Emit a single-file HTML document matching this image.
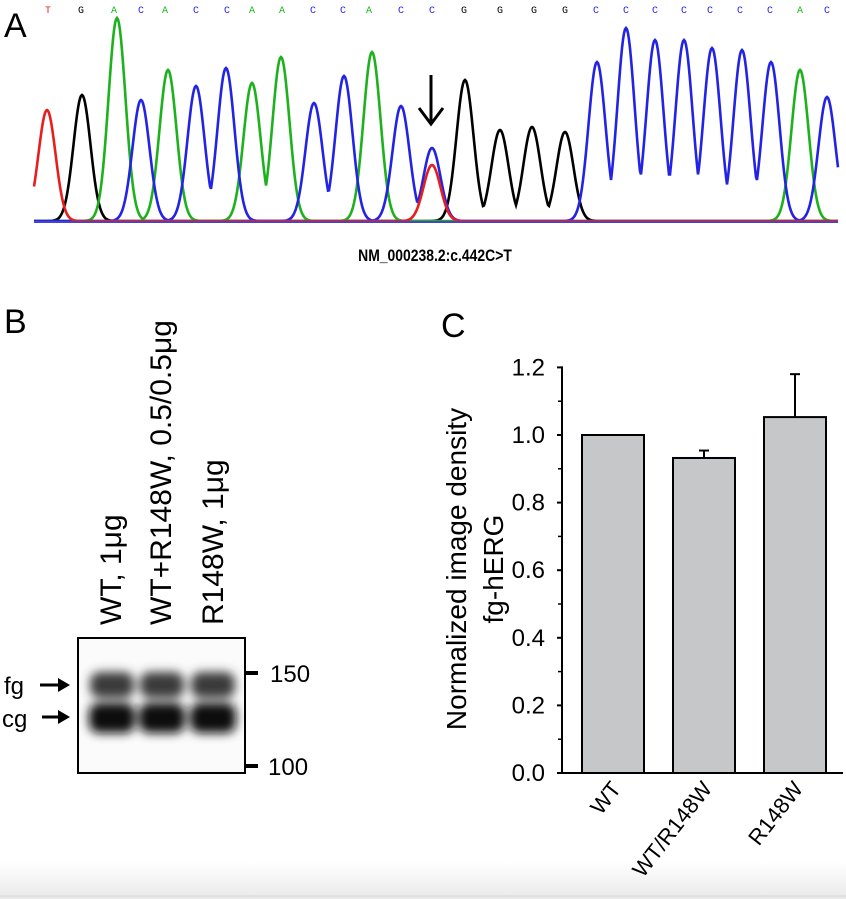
<!DOCTYPE html>
<html><head><meta charset="utf-8"><style>
html,body{margin:0;padding:0;background:#fff;}
body{width:846px;height:899px;overflow:hidden;position:relative;font-family:"Liberation Sans",Arial,sans-serif;}
svg{position:absolute;left:0;top:0;font-family:"Liberation Sans",Arial,sans-serif;}
</style></head><body>
<svg id="fig" width="846" height="899" viewBox="0 0 846 899">
<defs>
<linearGradient id="bottomGrad" x1="0" y1="0" x2="0" y2="1"><stop offset="0" stop-color="#ffffff"/><stop offset="1" stop-color="#e9e9e9"/></linearGradient>
<filter id="blur" x="-50%" y="-100%" width="200%" height="300%"><feGaussianBlur stdDeviation="5"/></filter>
</defs>
<rect x="0" y="862" width="846" height="37" fill="url(#bottomGrad)"/>
<line x1="0" y1="896" x2="846" y2="896" stroke="#d6d6d6" stroke-width="1"/>

<text x="4" y="37" font-size="34" fill="#000">A</text>
<g id="chromA"></g>
<text x="435" y="261" text-anchor="middle" font-size="17" font-weight="bold" transform="translate(435,0) scale(0.82,1) translate(-435,0)">NM_000238.2:c.442C&gt;T</text>

<text x="4" y="333" font-size="34">B</text>
<g font-size="30">
<text transform="translate(121,625) rotate(-90)">WT, 1μg</text>
<text transform="translate(171,625) rotate(-90)">WT+R148W, 0.5/0.5μg</text>
<text transform="translate(223,625) rotate(-90)">R148W, 1μg</text>
</g>
<g>
<rect x="78" y="638" width="167" height="135" fill="#fbfbfb" stroke="#000" stroke-width="2"/>
<g filter="url(#blur)">
<rect x="90" y="672" width="44" height="26" rx="10" fill="#3a3a3a"/>
<rect x="140" y="672" width="44" height="26" rx="10" fill="#3a3a3a"/>
<rect x="191" y="672" width="44" height="26" rx="10" fill="#3a3a3a"/>
<rect x="89" y="703" width="46" height="30" rx="10" fill="#111"/>
<rect x="139" y="703" width="46" height="30" rx="10" fill="#111"/>
<rect x="190" y="703" width="46" height="30" rx="10" fill="#111"/>
</g>
</g>
<g>
<text x="4" y="694" font-size="24">fg</text>
<text x="2" y="727" font-size="24">cg</text>
<line x1="40" y1="685" x2="60" y2="685" stroke="#000" stroke-width="3"/><polygon points="58,678 70,685 58,692" fill="#000"/>
<line x1="42" y1="717" x2="60" y2="717" stroke="#000" stroke-width="3"/><polygon points="58,710 70,717 58,724" fill="#000"/>
<line x1="245" y1="673" x2="258" y2="673" stroke="#000" stroke-width="4"/>
<line x1="245" y1="766" x2="258" y2="766" stroke="#000" stroke-width="4"/>
<text x="270" y="682" font-size="24">150</text>
<text x="268" y="775" font-size="24">100</text>
</g>

<text x="441" y="337" font-size="34">C</text>
<g id="chartC"></g>
</svg>
<script>
// ---- Chromatogram data ----
const peakPos = [47,82,117,141,168,196,226,252,281,314,344,372,401,432,432,465,500,532,565,597,626,655,684,712,742,771,800,827];
const peakTop = [110,95,18,100,70,86,68,83,57,103,76,52,106,148,165,80,130,127,132,62,28,40,40,48,50,62,70,97];
const peakBase = ["T","G","A","C","A","C","C","A","A","C","C","A","C","C","T","G","G","G","G","C","C","C","C","C","C","C","A","C"];
const baseCalls = ["T","G","A","C","A","C","C","A","A","C","C","A","C","C","G","G","G","G","C","C","C","C","C","C","C","A","C"];
const callPos = [48,81,114,141,165,196,227,252,282,313,343,369,401,432,464,500,534,565,596,626,655,684,710,740,770,800,827];
const colors = {A:"#1db21d",C:"#2323e6",G:"#000000",T:"#e61e1e"};
const NS="http://www.w3.org/2000/svg";
const chrom=document.getElementById('chromA');
const baseY=221, x0=34, x1=838;
["G","A","C","T"].forEach(function(b){
  // half-gaussian shapes: each peak shape with max taken (avoid additive overshoot)
  let d="";
  for(let x=x0;x<=x1;x+=1){
    let v=0;
    for(let i=0;i<peakPos.length;i++){
      if(peakBase[i]!==b)continue;
      const amp=baseY-peakTop[i];
      const dx=(x-peakPos[i])/8.5;
      v=Math.max(v,amp*Math.exp(-dx*dx/2));
    }
    d+=(d?"L":"M")+x+","+(baseY-v).toFixed(1);
  }
  const p=document.createElementNS(NS,'path');
  p.setAttribute('d',d);p.setAttribute('fill','none');p.setAttribute('stroke',colors[b]);p.setAttribute('stroke-width','2.6');
  
  
  chrom.appendChild(p);
});
const bl=document.createElementNS(NS,'line');
bl.setAttribute('x1',x0);bl.setAttribute('x2',x1);bl.setAttribute('y1',baseY+1);bl.setAttribute('y2',baseY+1);bl.setAttribute('stroke','#4444cc');bl.setAttribute('stroke-width','2');


chrom.appendChild(bl);
baseCalls.forEach(function(c,i){
  const t=document.createElementNS(NS,'text');
  t.setAttribute('x',callPos[i]);t.setAttribute('y',13);t.setAttribute('text-anchor','middle');
  t.setAttribute('font-size','10');t.setAttribute('font-family','"Liberation Mono",monospace');t.setAttribute('fill',colors[c]);
  t.textContent=c;
  
  
  chrom.appendChild(t);
});
const arr=document.createElementNS(NS,'g');
arr.innerHTML='<line x1="431" y1="75" x2="431" y2="122" stroke="#000" stroke-width="3"/><polyline points="419,108 431,124 443,108" fill="none" stroke="#000" stroke-width="3"/>';


chrom.appendChild(arr);

// ---- Bar chart data ----
const categories=["WT","WT/R148W","R148W"];
const values=[1.0,0.932,1.053];
const errors=[0,0.022,0.127];
const yTicks=[0,0.2,0.4,0.6,0.8,1.0,1.2];
const yTickLabels=["0.0","0.2","0.4","0.6","0.8","1.0","1.2"];
const cg=document.getElementById('chartC');
const axX=562, y0=773, yScale=338;
function Y(v){return y0-v*yScale;}
function X(i){return 613+i*91;}
const bw=62;
function add(tag,attrs,name,text){
  const e=document.createElementNS(NS,tag);
  for(const k in attrs)e.setAttribute(k,attrs[k]);
  if(text!==undefined)e.textContent=text;
  
  
  cg.appendChild(e);return e;
}
values.forEach(function(v,i){
  const cx=X(i);
  if(errors[i]>0){
    add('line',{x1:cx,x2:cx,y1:Y(v),y2:Y(v+errors[i]),stroke:'#000','stroke-width':2},'error-bar');
    add('line',{x1:cx-5,x2:cx+5,y1:Y(v+errors[i]),y2:Y(v+errors[i]),stroke:'#000','stroke-width':2},'error-cap');
  }
  add('rect',{x:cx-bw/2,y:Y(v),width:bw,height:y0-Y(v),fill:'#c6c7c9',stroke:'#000','stroke-width':2},'bar-'+categories[i].toLowerCase().replace('/','-'));
  add('text',{transform:'translate('+(cx+9)+','+(y0+16)+') rotate(-52)','text-anchor':'end','font-size':'22'},'x-label-'+i,categories[i]);
});
add('line',{x1:axX,x2:axX,y1:Y(1.2)-1,y2:y0+1,stroke:'#000','stroke-width':2},'y-axis');
add('line',{x1:axX-4,x2:843,y1:y0,y2:y0,stroke:'#000','stroke-width':2},'x-axis');
yTicks.forEach(function(t,i){
  add('line',{x1:axX-5,x2:axX,y1:Y(t),y2:Y(t),stroke:'#000','stroke-width':2},'y-tick');
  add('text',{x:545,y:Y(t)+8,'text-anchor':'end','font-size':'24'},'y-tick-label',yTickLabels[i]);
  if(i<yTicks.length-1) add('line',{x1:axX-4,x2:axX,y1:Y(t+0.1),y2:Y(t+0.1),stroke:'#000','stroke-width':1.5},'y-minor-tick');
});
add('text',{transform:'translate(466,569) rotate(-90)','text-anchor':'middle','font-size':'28'},'y-axis-title','Normalized image density');
add('text',{transform:'translate(503,569) rotate(-90)','text-anchor':'middle','font-size':'28'},'y-axis-title-2','fg-hERG');
</script>
</body></html>
